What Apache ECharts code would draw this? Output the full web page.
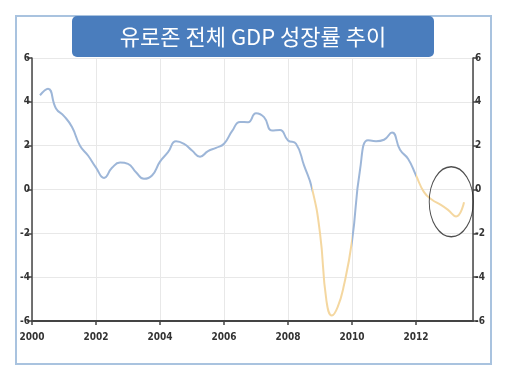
<!DOCTYPE html>
<html>
<head>
<meta charset="utf-8">
<script src="https://cdn.jsdelivr.net/npm/echarts@6/dist/echarts.min.js"></script>
<style>
html,body{margin:0;padding:0;background:#fff;}
#chart{width:507px;height:373px;}
</style>
</head>
<body>
<div id="chart"></div>
<script>
// Positions (decimal years) and YoY GDP growth (%)
const periods = [
  2000.25, 2000.5, 2000.75, 2001.0, 2001.25, 2001.5, 2001.75, 2002.0,
  2002.25, 2002.5, 2002.75, 2003.0, 2003.25, 2003.5, 2003.75, 2004.0,
  2004.25, 2004.5, 2004.75, 2005.0, 2005.25, 2005.5, 2005.75, 2006.0,
  2006.25, 2006.5, 2006.75, 2007.0, 2007.25, 2007.5, 2007.75, 2008.0,
  2008.25, 2008.5, 2008.75, 2009.0, 2009.2, 2009.37, 2009.55, 2009.75, 2010.0,
  2010.25, 2010.5, 2010.75, 2011.0, 2011.25, 2011.5, 2011.75, 2012.0,
  2012.25, 2012.5, 2012.75, 2013.0, 2013.25, 2013.5
];
const growth = [
  4.3, 4.6, 3.7, 3.35, 2.85, 2.0, 1.55, 1.0,
  0.53, 0.99, 1.23, 1.17, 0.79, 0.49, 0.64, 1.27,
  1.7, 2.2, 2.08, 1.78, 1.5, 1.75, 1.9, 2.09,
  2.66, 3.08, 3.07, 3.48, 3.3, 2.69, 2.72, 2.24,
  2.09, 1.1, 0.05, -2.0, -5.07, -5.75, -5.37, -4.35, -2.35,
  0.9, 2.25, 2.2, 2.27, 2.6, 1.81, 1.4, 0.64,
  -0.12, -0.47, -0.68, -0.93, -1.23, -0.58
];
// Highlighted (weak growth) periods, in decimal years
const highlightPeriods = [[2008.75, 2010.0], [2012.0, 2014]];
// Annotation ellipse centre (decimal year, value)
const circleCenter = [2013.1, -0.56];
const yTicks = { min: -6, max: 6, interval: 2 };
const xTicks = { min: 2000, max: 2013.78, interval: 2 };
const titleText = '유로존 전체 GDP 성장률 추이';

const chart = echarts.init(document.getElementById('chart'), null, {renderer: 'canvas'});
const labelFont = {fontFamily: '"Liberation Sans Narrow","DejaVu Sans Condensed",Arial,sans-serif', fontSize: 10, color: '#333', fontWeight: 'bold'};

const pieces = [];
highlightPeriods.forEach(p => pieces.push({gte: p[0], lte: p[1], color: '#f4d7a0'}));

const yAxisBase = {
  type: 'value', min: yTicks.min, max: yTicks.max, interval: yTicks.interval,
  axisLine: {show: true, lineStyle: {color: '#444', width: 1.5}},
  axisTick: {show: true, length: 5, lineStyle: {color: '#444', width: 1.5}},
  axisLabel: Object.assign({margin: 2}, labelFont),
};

chart.setOption({
  animation: false,
  backgroundColor: '#fff',
  graphic: [
    {type: 'rect', shape: {x: 16, y: 16, width: 475, height: 348}, style: {fill: 'none', stroke: '#a9c3df', lineWidth: 2}, z: 0},
    {type: 'rect', shape: {x: 72, y: 16, width: 362, height: 41, r: 5}, style: {fill: '#4a7dbd'}, z: 10},
    {type: 'text', x: 253, y: 37, style: {text: titleText, fill: '#fff', font: '22px "Noto Sans CJK KR", sans-serif', align: 'center', verticalAlign: 'middle'}, z: 11}
  ],
  grid: {left: 32, right: 34, top: 58, bottom: 52, containLabel: false},
  xAxis: {
    type: 'value', min: xTicks.min, max: xTicks.max, interval: xTicks.interval,
    axisLine: {show: true, onZero: false, lineStyle: {color: '#444', width: 2}},
    axisTick: {show: true, length: 4, lineStyle: {color: '#444', width: 1.5}},
    axisLabel: Object.assign({margin: 11, showMaxLabel: false, formatter: v => (v % 2 === 0 ? String(v) : '')}, labelFont),
    splitLine: {show: true, lineStyle: {color: '#e8e8e8', width: 1}}
  },
  yAxis: [
    Object.assign({}, yAxisBase, {position: 'left', splitLine: {show: true, lineStyle: {color: '#e8e8e8', width: 1}}}),
    Object.assign({}, yAxisBase, {position: 'right', splitLine: {show: false}})
  ],
  visualMap: {
    show: false, type: 'piecewise', dimension: 0, seriesIndex: 0,
    pieces: pieces,
    outOfRange: {color: '#9db6d8'}
  },
  series: [
    {
      type: 'line', smooth: 0.5, showSymbol: false, symbol: 'none',
      data: periods.map((q, i) => [q, growth[i]]),
      lineStyle: {width: 2},
      z: 3
    },
    {
      type: 'scatter', silent: true,
      data: [circleCenter],
      symbol: 'circle', symbolSize: [44, 70],
      itemStyle: {color: 'rgba(0,0,0,0)', borderColor: '#222', borderWidth: 1.2},
      z: 4
    }
  ]
});
</script>
</body>
</html>
